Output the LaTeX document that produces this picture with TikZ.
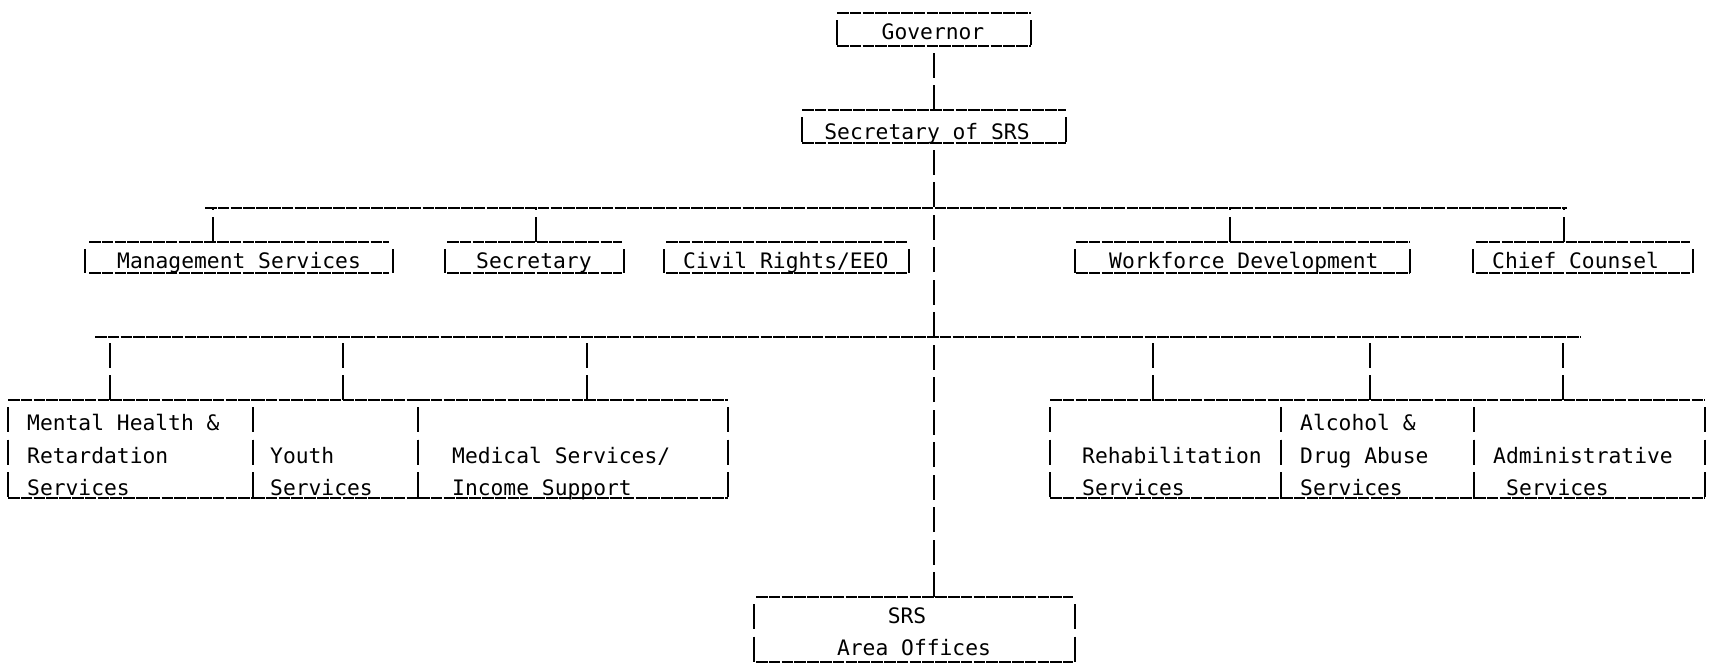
\documentclass[tikz,border=0pt]{standalone}
\usepackage{fontspec}
\newfontfamily\typewriter{DejaVu Sans Mono}
\usetikzlibrary{calc}
\tikzset{
  x=1pt, y=-1pt,
  frame/.style={rectangle, inner sep=0pt, outer sep=0pt},
  hrule/.style={line width=1.7pt, dash pattern=on 11.6pt off 1.2pt},
  vrule/.style={line width=1.7pt, dash pattern=on 25pt off 7.5pt},
  lbl/.style={inner sep=0pt, anchor=base west, font=\typewriter\fontsize{21.3}{26}\selectfont},
  clbl/.style={lbl, anchor=base},
}
% an invisible frame node spanning (x1,y1)-(x2,y2)
\newcommand\boxat[5]{\node[frame, minimum width={#4pt-#2pt}, minimum height={#5pt-#3pt}] (#1) at ({(#2+#4)/2},{(#3+#5)/2}) {};}
% typewritten outline of a frame: rules above and below, bars at the sides
\newcommand\tframe[2][2]{%
  \draw[hrule] ([xshift=#1pt]#2.north west) -- ([xshift=-#1pt]#2.north east);
  \draw[hrule] ([xshift=#1pt]#2.south west) -- ([xshift=-#1pt]#2.south east);
  \draw[vrule] ([yshift=-7pt]#2.north west) -- (#2.south west);
  \draw[vrule] ([yshift=-7pt]#2.north east) -- (#2.south east);
}
\begin{document}
\begin{tikzpicture}
\useasboundingbox (0,0) rectangle (1711,670);

% ---- frames ----
\boxat{gov}{837}{13}{1031}{46}
\boxat{sec}{802}{110}{1066}{143}
\boxat{mgmt}{85}{242}{393}{273}
\boxat{secy}{445}{242}{624}{273}
\boxat{civ}{664}{242}{909}{273}
\boxat{wfd}{1075}{242}{1410}{273}
\boxat{cc}{1473}{242}{1693}{273}
\boxat{mh}{8}{400}{253}{498}
\boxat{ys}{253}{400}{418}{498}
\boxat{med}{418}{400}{728}{498}
\boxat{rehab}{1050}{400}{1281}{498}
\boxat{alc}{1281}{400}{1474}{498}
\boxat{adm}{1474}{400}{1705}{498}
\boxat{srs}{754}{597}{1075}{662}

\tframe[0]{gov}
\tframe[0]{sec}
\tframe[4]{mgmt}
\tframe[2]{secy}
\tframe[2]{civ}
\tframe[1]{wfd}
\tframe[3]{cc}
\tframe[0]{mh}
\tframe[0]{ys}
\tframe[0]{med}
\tframe[0]{rehab}
\tframe[0]{alc}
\tframe[0]{adm}
\tframe[2]{srs}

% ---- labels ----
\node[clbl] (t-gov) at (933,39) {Governor};
\node[clbl] (t-sec) at (927,139) {Secretary of SRS};
\node[lbl] (t-mgmt) at (117,268) {Management Services};
\node[lbl] (t-secy) at (476,268) {Secretary};
\node[lbl] (t-civ) at (683,268) {Civil Rights/EEO};
\node[lbl] (t-wfd) at (1109,268) {Workforce Development};
\node[lbl] (t-cc) at (1492,268) {Chief Counsel};

\node[lbl] (t-mh1) at (27,430) {Mental Health \&};
\node[lbl] (t-mh2) at (27,463) {Retardation};
\node[lbl] (t-mh3) at (27,495) {Services};
\node[lbl] (t-ys1) at (270,463) {Youth};
\node[lbl] (t-ys2) at (270,495) {Services};
\node[lbl] (t-med1) at (452,463) {Medical Services/};
\node[lbl] (t-med2) at (452,495) {Income Support};

\node[lbl] (t-reh1) at (1082,463) {Rehabilitation};
\node[lbl] (t-reh2) at (1082,495) {Services};
\node[lbl] (t-alc1) at (1300,430) {Alcohol \&};
\node[lbl] (t-alc2) at (1300,463) {Drug Abuse};
\node[lbl] (t-alc3) at (1300,495) {Services};
\node[lbl] (t-adm1) at (1493,463) {Administrative};
\node[lbl] (t-adm2) at (1506,495) {Services};

\node[clbl] (t-srs1) at (907,623) {SRS};
\node[clbl] (t-srs2) at (914,655) {Area Offices};

% ---- bus lines ----
\coordinate (b1w) at (205,208);
\coordinate (b1e) at (1567,208);
\coordinate (b2w) at (95,337);
\coordinate (b2e) at (1580,337);
\draw[hrule] (b1w) -- (b1e);
\draw[hrule] (b2w) -- (b2e);

% ---- trunk ----
\draw[vrule] (gov.south |- sec.north) -- (gov.south);
\draw[vrule] (sec.south |- srs.north) -- (sec.south);

% ---- drops from the first bus ----
\coordinate (d-mgmt) at (213,208);
\coordinate (d-secy) at (536,208);
\coordinate (d-wfd) at (1230,208);
\coordinate (d-cc) at (1564,208);
\foreach \n in {mgmt,secy,wfd,cc}
  \draw[vrule] (d-\n |- \n.north) -- (d-\n);

% ---- drops from the second bus ----
\coordinate (d-mh) at (110,337);
\coordinate (d-ys) at (343,337);
\coordinate (d-med) at (587,337);
\coordinate (d-rehab) at (1153,337);
\coordinate (d-alc) at (1370,337);
\coordinate (d-adm) at (1563,337);
\foreach \n in {mh,ys,med,rehab,alc,adm}
  \draw[vrule] (d-\n |- \n.north) -- (d-\n);
\end{tikzpicture}
\end{document}
